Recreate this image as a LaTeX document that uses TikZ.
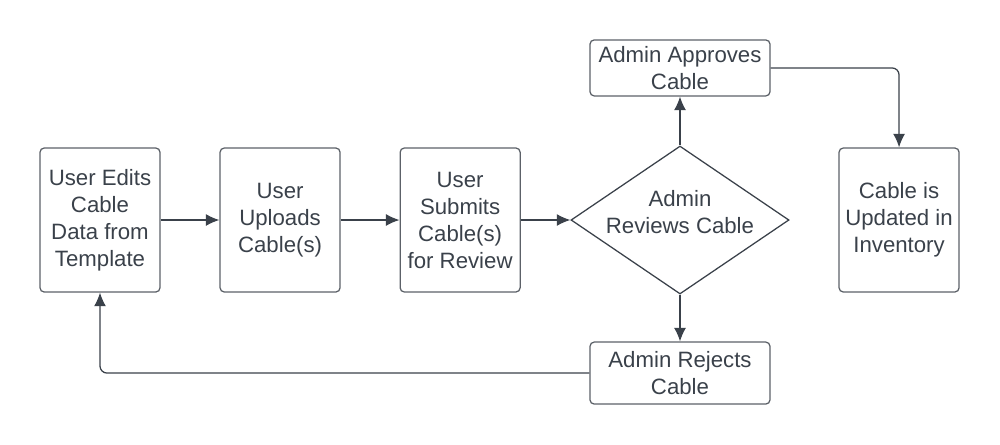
\documentclass[tikz,border=0pt]{standalone}
\usepackage{fontspec}
\setmainfont{Liberation Sans}
\usetikzlibrary{positioning,shapes.geometric,arrows.meta}
\definecolor{ink}{HTML}{3A414A}
\definecolor{rim}{HTML}{5C6168}

\begin{document}
\begin{tikzpicture}
      \tikzstyle{stepbox}=[rectangle, rounded corners=3pt, line width=0.9pt, draw=rim, text=ink, align=center, minimum width=3cm, minimum height=3.6cm, inner sep=0pt, font=\fontsize{15.8}{19.2}\selectfont]
      \tikzstyle{widebox}=[stepbox, minimum width=4.5cm, minimum height=1.4cm]
      \tikzstyle{decide}=[diamond, line width=0.9pt, draw=ink, minimum width=5.45cm, minimum height=3.7cm, aspect=1.47, inner sep=0pt]
      \tikzstyle{decidetext}=[text=ink, align=center, yshift=0.21cm, font=\fontsize{15.8}{19.2}\selectfont]
      \tikzstyle{connect}=[-{Latex[length=3.4mm,width=3mm]}, line width=0.9pt, draw=ink]

      \useasboundingbox (0,0) rectangle (25,-11.1);

      \node[stepbox] (edit) at (2.5,-5.5) {User Edits\\Cable\\Data from\\Template};
      \node[stepbox] (upload) [right=1.47cm of edit] {User\\Uploads\\Cable(s)};
      \node[stepbox] (submit) [right=1.47cm of upload] {User\\Submits\\Cable(s)\\for Review};
      \node[decide, label={[decidetext]center:Admin\\Reviews Cable}] (review) [right=1.24cm of submit] {};
      \node[widebox] (approve) [above=1.22cm of review] {Admin Approves\\Cable};
      \node[widebox, minimum height=1.55cm] (reject) [below=1.17cm of review] {Admin Rejects\\Cable};
      \node[stepbox] (update) [right=1.22cm of review] {Cable is\\Updated in\\Inventory};

      \path (edit) edge [connect] (upload)
            (upload) edge [connect] (submit)
            (submit) edge [connect] (review);

      \path (review) edge [connect] (approve)
            (review) edge [connect] (reject);

      \draw[connect, rounded corners=5pt] (approve.east) -| (update.north);
      \draw[connect, rounded corners=5pt] (reject.west) -| (edit.south);
    \end{tikzpicture}
\end{document}
